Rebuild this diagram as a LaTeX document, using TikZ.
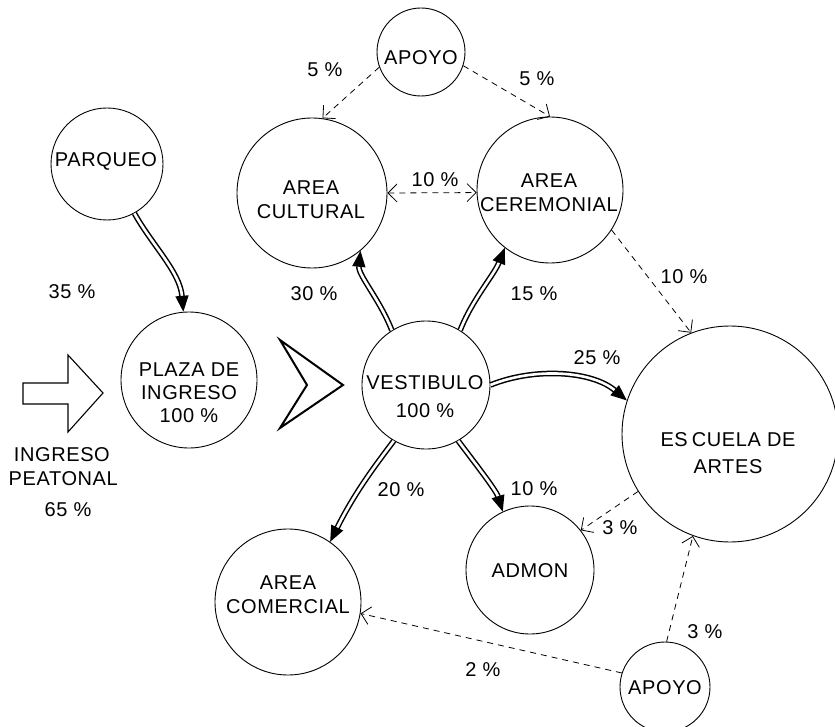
\documentclass[tikz,border=0pt]{standalone}
\usepackage{fontspec}
\setmainfont{Liberation Sans}[LetterSpace=3]
\usetikzlibrary{arrows.meta}
\begin{document}
\begin{tikzpicture}[x=1pt,y=-1pt,
  font=\fontsize{20}{24}\selectfont,
  room/.style={circle, draw, line width=0.9pt, inner sep=0pt},
  lbl/.style={align=center, inner sep=0pt},
  pct/.style={inner sep=0pt},
  flow/.style={line width=1.5pt, double=white, double distance=2.6pt,
    -{Triangle[length=16pt,width=13pt]}},
  barb/.tip={Straight Barb[length=9pt,width=18pt,line width=0.8pt]},
  link/.style={line width=0.8pt, dash pattern=on 6pt off 5pt, -barb},
  linkboth/.style={link, barb-barb}]

\useasboundingbox (0,0) rectangle (835,727);

% rooms
\node[room, minimum size=112pt] (parqueo) at (107,164) {};
\node[room, minimum size=88pt] (apoyoA) at (421,52) {};
\node[room, minimum size=150pt] (cultural) at (312,193) {};
\node[room, minimum size=146pt] (ceremonial) at (550,190) {};
\node[room, minimum size=136pt] (plaza) at (189,380) {};
\node[room, minimum size=128pt] (vest) at (426,385) {};
\node[room, minimum size=216pt] (escuela) at (730,434) {};
\node[room, minimum size=146pt] (comercial) at (288,602) {};
\node[room, minimum size=128pt] (admon) at (530,570) {};
\node[room, minimum size=90pt] (apoyoB) at (665,687) {};

% room names
\node[lbl] (parqueoT) at (106,161) {PARQUEO};
\node[lbl] (apoyoAT) at (421,58) {APOYO};
\node[lbl] (culturalT) at (311,200) {AREA\\CULTURAL};
\node[lbl] (ceremonialT) at (549,193) {AREA\\CEREMONIAL};
\node[lbl, font=\fontsize{20}{23}\selectfont] (plazaT) at (189,393) {PLAZA DE\\INGRESO\\100 \%};
\node[lbl, font=\fontsize{20}{28}\selectfont] (vestT) at (425,397) {VESTIBULO\\100 \%};
\node[lbl, font=\fontsize{20}{27}\selectfont] (escuelaT) at (728,453) {ES\hspace{4pt}CUELA DE\\ARTES};
\node[lbl] (comercialT) at (288,595) {AREA\\COMERCIAL};
\node[lbl] (admonT) at (530,571) {ADMON};
\node[lbl] (apoyoBT) at (665,688) {APOYO};

% pedestrian entry
\draw[line width=1.1pt] (23,383) -- (68,383) -- (68,355) -- (103,393)
  -- (68,432) -- (68,404) -- (23,404) -- cycle;
\node[pct, anchor=east] (ingresoT) at (110,455) {INGRESO};
\node[pct, anchor=east] (peatonalT) at (118,479) {PEATONAL};
\node[pct] (p65) at (68,510) {65 \%};
\node[pct] (p35) at (72,292) {35 \%};

% chevron between plaza and vestibule
\draw[line width=2pt, line join=miter] (280,340) -- (343,385) -- (280,428) -- (307,385) -- cycle;

% main flows
\draw[flow] (parqueo) .. controls (152,245) and (180,272) .. (plaza);
\draw[flow] (vest.122) .. controls (380,300) and (358,275) .. (cultural.-50);
\draw[flow] (vest.58) .. controls (472,300) and (494,275) .. (ceremonial.-128);
\draw[flow] (vest.0) .. controls (535,367) and (592,371) .. (escuela.162);
\draw[flow] (vest.-120) .. controls (378,462) and (356,490) .. (comercial.55);
\draw[flow] (vest.-60) .. controls (474,462) and (496,490) .. (admon.115);

% secondary links
\draw[link] (apoyoA.200) -- (cultural.82);
\draw[link] (apoyoA.-18) -- (ceremonial.90);
\draw[linkboth] (cultural.0) -- (ceremonial.182);
\draw[link] (ceremonial.-33) -- (escuela.111);
\draw[link] (escuela.212) -- (admon.38);
\draw[link] (apoyoB.88) -- (escuela.-110);
\draw[link] (apoyoB.162) -- (comercial.-9);

% percentages
\node[pct] (p5a) at (325,70) {5 \%};
\node[pct] (p5b) at (537,79) {5 \%};
\node[pct] (p10a) at (435,180) {10 \%};
\node[pct] (p10b) at (684,277) {10 \%};
\node[pct] (p30) at (314,294) {30 \%};
\node[pct] (p15) at (534,294) {15 \%};
\node[pct] (p25) at (597,358) {25 \%};
\node[pct] (p20) at (401,490) {20 \%};
\node[pct] (p10c) at (534,489) {10 \%};
\node[pct] (p3a) at (620,528) {3 \%};
\node[pct] (p3b) at (705,632) {3 \%};
\node[pct] (p2) at (483,670) {2 \%};
\end{tikzpicture}
\end{document}
